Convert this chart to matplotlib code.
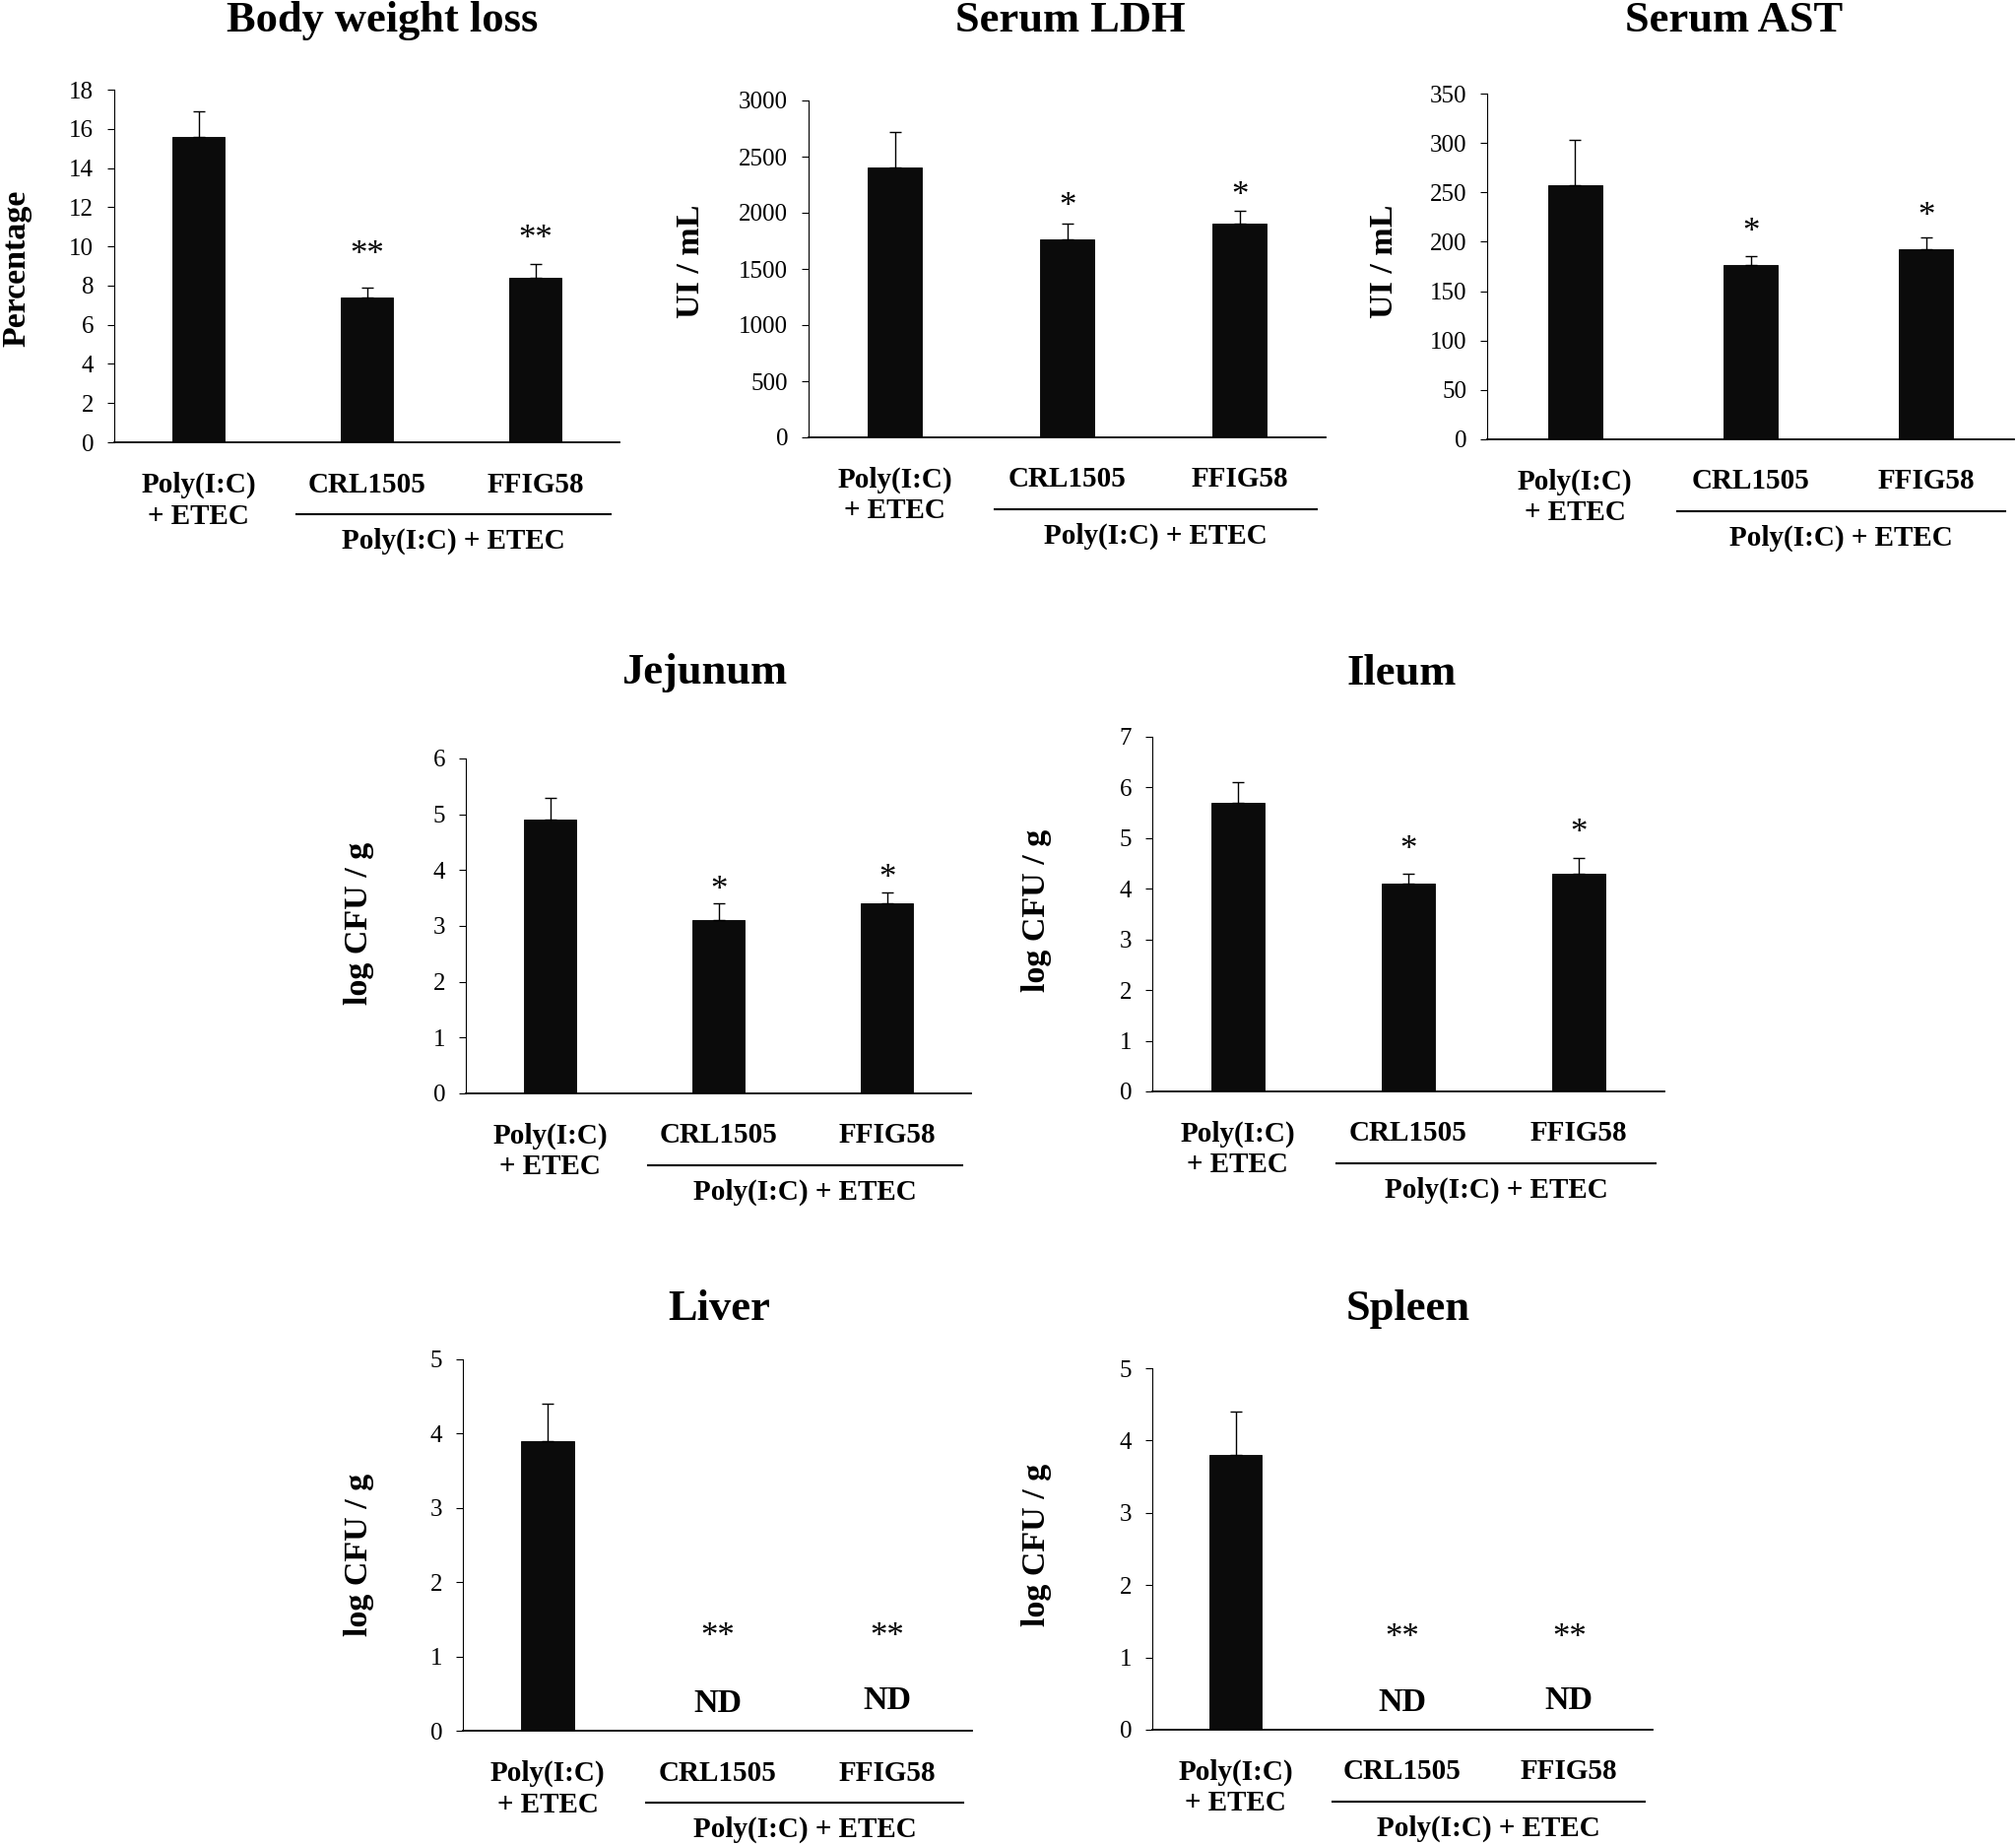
import matplotlib
matplotlib.use("Agg")
import matplotlib.pyplot as plt
from matplotlib.transforms import offset_copy

plt.rcParams['font.family'] = ['Liberation Serif', 'DejaVu Serif']

# ---------------- data ----------------
categories = ["Poly(I:C)\n+ ETEC", "CRL1505", "FFIG58"]
group_label = "Poly(I:C) + ETEC"

titles = ["Body weight loss", "Serum LDH", "Serum AST", "Jejunum", "Ileum", "Liver", "Spleen"]
ylabels = ["Percentage", "UI / mL", "UI / mL", "log CFU / g", "log CFU / g", "log CFU / g", "log CFU / g"]

bw_mean = [15.6, 7.4, 8.4]
bw_err = [1.3, 0.5, 0.7]
ldh_mean = [2400, 1760, 1900]
ldh_err = [320, 140, 120]
ast_mean = [257, 176, 192]
ast_err = [46, 9, 12]
jej_mean = [4.9, 3.1, 3.4]
jej_err = [0.4, 0.3, 0.2]
ile_mean = [5.7, 4.1, 4.3]
ile_err = [0.4, 0.2, 0.3]
liv_mean = [3.9, 0, 0]
liv_err = [0.5, 0, 0]
spl_mean = [3.8, 0, 0]
spl_err = [0.6, 0, 0]

yticks_max = [18, 3000, 350, 6, 7, 5, 5]
yticks_step = [2, 500, 50, 1, 1, 1, 1]

bw_sig = ["", "**", "**"]
ldh_sig = ["", "*", "*"]
ast_sig = ["", "*", "*"]
jej_sig = ["", "*", "*"]
ile_sig = ["", "*", "*"]
liv_sig = ["", "**", "**"]
spl_sig = ["", "**", "**"]

bw_sig_y = [None, 10.0, 10.8]
ldh_sig_y = [None, 2125, 2222]
ast_sig_y = [None, 218, 234]
jej_sig_y = [None, 3.78, 3.99]
ile_sig_y = [None, 4.93, 5.25]
liv_sig_y = [None, 1.37, 1.37]
spl_sig_y = [None, 1.38, 1.38]

nd_text = ["", "ND", "ND"]
nd_y = [None, 0.37, 0.40]

means = [bw_mean, ldh_mean, ast_mean, jej_mean, ile_mean, liv_mean, spl_mean]
errs = [bw_err, ldh_err, ast_err, jej_err, ile_err, liv_err, spl_err]
sigs = [bw_sig, ldh_sig, ast_sig, jej_sig, ile_sig, liv_sig, spl_sig]
sig_ys = [bw_sig_y, ldh_sig_y, ast_sig_y, jej_sig_y, ile_sig_y, liv_sig_y, spl_sig_y]

# ---------------- layout (pixels) ----------------
W, H = 2047, 1872
DPI = 100
fig = plt.figure(figsize=(W / DPI, H / DPI), dpi=DPI, facecolor='white')

# (x_axis_left, x_axis_right, y_top, y_zero)
boxes = [
    (116, 629, 91, 449),
    (821, 1346, 102, 444),
    (1510, 2045, 95, 446),
    (473, 986, 770, 1110),
    (1170, 1690, 748, 1108),
    (470, 987, 1380, 1757),
    (1170, 1678, 1389, 1756),
]
title_pos = [(388, 21), (1087, 21), (1761, 21), (715, 683), (1423, 684), (730, 1329), (1430, 1329)]
ylabel_pos = [(17, 272), (701, 265), (1405, 265), (365, 937), (1053, 924), (365, 1578), (1052, 1568)]

TICK_FS = 18
CAT_FS = 21
TITLE_FS = 32
YLAB_FS = 24.5
STAR_FS = 25
ND_FS = 24.5

xpos = [0, 1, 2]

for i in range(7):
    x0, x1, yt, yz = boxes[i]
    ax = fig.add_axes([x0 / W, 1 - yz / H, (x1 - x0) / W, (yz - yt) / H])
    m = means[i]
    e = errs[i]
    draw_idx = [k for k in range(3) if m[k] > 0]
    ax.bar([xpos[k] for k in draw_idx], [m[k] for k in draw_idx], width=0.31,
           color='#0b0b0b', edgecolor='#000000', linewidth=0.6, zorder=2)
    ax.errorbar([xpos[k] for k in draw_idx], [m[k] for k in draw_idx],
                yerr=[[0] * len(draw_idx), [e[k] for k in draw_idx]],
                fmt='none', ecolor='black', elinewidth=1.0, capsize=4.2, capthick=1.0, zorder=3)
    ax.set_xlim(-0.5, 2.5)
    ax.set_ylim(0, yticks_max[i])
    ticks = list(range(0, yticks_max[i] + 1, yticks_step[i]))
    ax.set_yticks(ticks)
    ax.set_yticklabels([str(t) for t in ticks], fontsize=TICK_FS)
    ax.tick_params(axis='y', direction='out', length=5, width=0.8, pad=10)
    ax.set_xticks([])
    for s in ['top', 'right']:
        ax.spines[s].set_visible(False)
    ax.spines['left'].set_linewidth(0.8)
    ax.spines['bottom'].set_linewidth(1.3)

    trans = ax.get_xaxis_transform()
    # category labels
    for k, cat in enumerate(categories):
        for li, line in enumerate(cat.split("\n")):
            tr = offset_copy(trans, fig=fig, x=0, y=-(43 + 32 * li), units='dots')
            ax.text(xpos[k], 0, line, transform=tr, ha='center', va='center',
                    fontsize=CAT_FS, fontweight='bold')
    # group line + label
    trl = offset_copy(trans, fig=fig, x=0, y=-73, units='dots')
    ax.plot([0.58, 2.45], [0, 0], transform=trl, color='black', lw=1.5, clip_on=False)
    trg = offset_copy(trans, fig=fig, x=0, y=-100, units='dots')
    ax.text((0.58 + 2.45) / 2, 0, group_label, transform=trg, ha='center', va='center',
            fontsize=CAT_FS, fontweight='bold')

    # significance
    trs = offset_copy(ax.transData, fig=fig, x=0, y=-9, units='dots')
    for k in range(3):
        if sigs[i][k]:
            ax.text(xpos[k], sig_ys[i][k], sigs[i][k], transform=trs, ha='center', va='center',
                    fontsize=STAR_FS)
    if i >= 5:
        for k in range(3):
            if nd_text[k]:
                ax.text(xpos[k], nd_y[k], nd_text[k], ha='center', va='center',
                        fontsize=ND_FS, fontweight='bold')

    fig.text(title_pos[i][0] / W, 1 - title_pos[i][1] / H, titles[i], ha='center', va='center',
             fontsize=TITLE_FS, fontweight='bold')
    fig.text(ylabel_pos[i][0] / W, 1 - ylabel_pos[i][1] / H, ylabels[i], ha='center', va='center',
             rotation=90, fontsize=YLAB_FS, fontweight='bold')

fig.savefig("out.png", dpi=DPI, facecolor='white')
